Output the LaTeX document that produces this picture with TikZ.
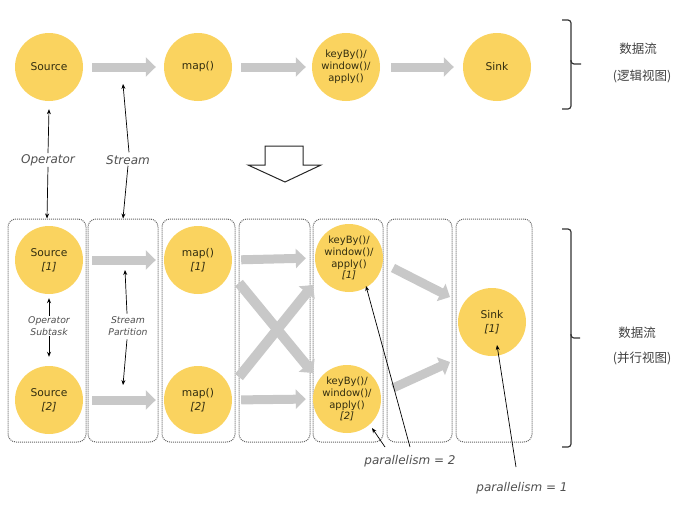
\documentclass[tikz,border=0pt]{standalone}
\usepackage{fontspec}
\setmainfont{DejaVu Sans}
\newfontfamily\cjk{Noto Sans CJK SC}
\usetikzlibrary{arrows.meta,calc}
\definecolor{cyel}{RGB}{250,211,95}
\definecolor{ctxt}{RGB}{50,45,15}
\definecolor{carr}{RGB}{200,200,200}
\definecolor{clab}{RGB}{80,80,80}
\definecolor{cbox}{RGB}{100,100,100}
\begin{document}
\begin{tikzpicture}[x=1pt,y=-1pt,
  opnode/.style={circle, fill=cyel, minimum size=68pt, inner sep=0pt, align=center, text=ctxt, font=\fontsize{10.7}{13.5}\selectfont},
  kbnode/.style={opnode, font=\fontsize{10}{11.8}\selectfont},
  flow/.style={draw=carr, line width=9pt, -{Triangle[width=19pt,length=10pt]}},
  xflow/.style={draw=carr, line width=10pt, -{Triangle[width=20pt,length=10pt]}},
  ann/.style={draw=black, line width=0.7pt, -{Stealth[length=5pt,width=4pt]}},
  lab/.style={font=\fontsize{12}{14}\selectfont\itshape, text=clab, inner sep=1pt},
  slab/.style={font=\fontsize{9.3}{11.3}\selectfont\itshape, text=clab, align=center, inner sep=1pt},
  boxnode/.style={draw=cbox, densely dotted, line width=1pt, rounded corners=8pt, minimum height=223pt, inner sep=0pt},
  cjklab/.style={font=\cjk\fontsize{12.5}{15}\selectfont, text=black!75, inner sep=0pt},
  brace/.style={draw=black!80, line width=1.2pt, rounded corners=3pt}
]
\useasboundingbox (0,0) rectangle (693,509);

% ---------- logical view ----------
\node[opnode] (src) at (49,67) {Source};
\node[opnode] (map) at (198,67) {map()};
\node[kbnode] (kb) at (346,67) {keyBy()/\\window()/\\apply()};
\node[opnode] (snk) at (497,67) {Sink};

\draw[flow, shorten <=9pt, shorten >=8pt] (src.east) -- (map.west);
\draw[flow, shorten <=9pt, shorten >=6pt] (map.east) -- (kb.west);
\draw[flow, shorten <=11pt, shorten >=9pt] (kb.east) -- (snk.west);

% brace top
\draw[brace] (562,20) -- (571,20) -- (571,64) -- (581,64);
\draw[brace] (571,60) -- (571,109) -- (562,109);
\node[cjklab] (t1) at (638,49) {数据流};
\node[cjklab] (t2) at (642,76) {(逻辑视图)};

% labels Operator / Stream
\node[lab] (oplab) at (48,160) {Operator};
\node[lab] (stlab) at (128,160) {Stream};

% hollow arrow
\draw[line width=1pt, draw=black!85, fill=white] (265,146) -- (303,146) -- (303,165) -- (321,165) -- (285,182) -- (248,165) -- (265,165) -- cycle;

% ---------- parallel view ----------
\node[boxnode, minimum width=78pt] (b1) at (47,330.5) {};
\node[boxnode, minimum width=70pt] (b2) at (123,330.5) {};
\node[boxnode, minimum width=73pt] (b3) at (198.5,330.5) {};
\node[boxnode, minimum width=71pt] (b4) at (274.5,330.5) {};
\node[boxnode, minimum width=70pt] (b5) at (348,330.5) {};
\node[boxnode, minimum width=65pt] (b6) at (419.5,330.5) {};
\node[boxnode, minimum width=76pt] (b7) at (494,330.5) {};

\node[opnode] (s1) at (49,260) {Source\\\textit{[1]}};
\node[opnode] (s2) at (49,400) {Source\\\textit{[2]}};
\node[opnode] (m1) at (198,260) {map()\\\textit{[1]}};
\node[opnode] (m2) at (198,400) {map()\\\textit{[2]}};
\node[kbnode] (k1) at (349,258) {keyBy()/\\window()/\\apply()\\\textit{[1]}};
\node[kbnode] (k2) at (347,399) {keyBy()/\\window()/\\apply()\\\textit{[2]}};
\node[opnode] (sk) at (492,322) {Sink\\\textit{[1]}};

\draw[flow, shorten <=9pt, shorten >=8pt] (s1.east) -- (m1.west);
\draw[flow, shorten <=9pt, shorten >=8pt] (s2.east) -- (m2.west);
\draw[flow, shorten <=9pt, shorten >=9pt] (m1.east) -- (k1.west);
\draw[flow, shorten <=9pt, shorten >=7pt] (m2.east) -- (k2.west);
\draw[xflow] ($(m1)+(41,23)$) -- ($(k2)+(-34,-26)$);
\draw[xflow] ($(m2)+(41,-23)$) -- ($(k1)+(-36,27)$);
\draw[flow] ($(k1)+(44,10)$) -- ($(sk)+(-42,-25)$);
\draw[flow] ($(k2)+(46,-11)$) -- ($(sk)+(-42,40)$);

% Operator / Stream annotation arrows
\draw[ann] (oplab.north) -- ($(src.south)+(0,8)$);
\draw[ann] (oplab.south) -- (b1.north);
\coordinate (stt) at (123,84);
\draw[ann] ($(stlab.north)+(1,-2)$) -- (stt);
\draw[ann] (stlab.south) -- (b2.north);

% Operator Subtask / Stream Partition
\node[slab] (oslab) at (49,326) {Operator\\Subtask};
\node[slab] (splab) at (128,326) {Stream\\Partition};
\draw[ann] (oslab.north) -- ($(s1.south)+(0,4)$);
\draw[ann] (oslab.south) -- ($(s2.north)+(0,-9)$);
\coordinate (spt) at (125,270);
\coordinate (spb) at (123,385);
\draw[ann] ($(splab.north)+(-1,-2)$) -- (spt);
\draw[ann] ($(splab.south)+(-1,3)$) -- (spb);

% brace bottom
\draw[brace] (562,229) -- (571,229) -- (571,338) -- (580,338);
\draw[brace] (571,334) -- (571,447) -- (562,447);
\node[cjklab] (t3) at (637,333) {数据流};
\node[cjklab] (t4) at (642,358) {(并行视图)};

% parallelism labels
\node[lab] (p2) at (410,461) {parallelism = 2};
\node[lab] (p1) at (522,488) {parallelism = 1};
\coordinate (p2a) at (385,447);
\coordinate (p2b) at (410,447);
\coordinate (p1a) at (516,467);
\draw[ann] (p2a) -- ($(k2)+(25,29)$);
\draw[ann] (p2b) -- ($(k1)+(17,28)$);
\draw[ann] (p1a) -- ($(sk)+(5,23)$);
\end{tikzpicture}
\end{document}
